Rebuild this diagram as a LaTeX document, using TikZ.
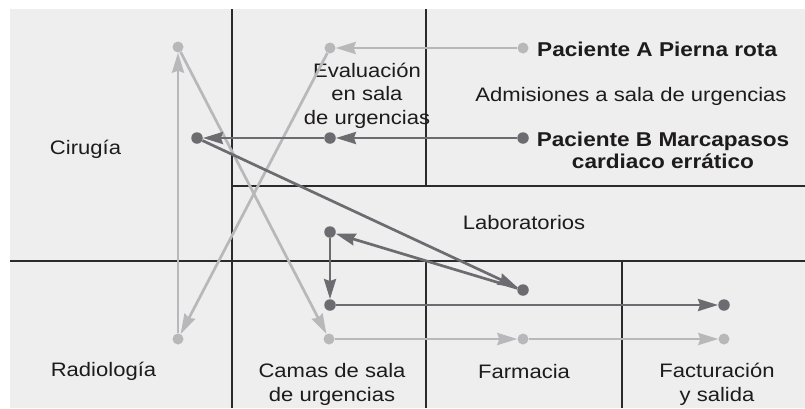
\documentclass[tikz,border=0pt]{standalone}
\usepackage{fontspec}
\setmainfont{Liberation Sans}[FakeStretch=1.13]
\usetikzlibrary{arrows.meta}
\definecolor{bg}{HTML}{EEEEEE}
\definecolor{lightA}{HTML}{B8B8BB}
\definecolor{darkB}{HTML}{6C6C70}
\definecolor{ink}{HTML}{1E1B1C}
\definecolor{gridc}{HTML}{2A2A2A}
\begin{document}
\begin{tikzpicture}[x=1pt,y=-1pt,
  txt/.style={font=\fontsize{19.5}{23.5}\selectfont, text=ink, inner sep=0pt, align=center},
  btxt/.style={txt, font=\fontsize{20}{22.5}\selectfont\bfseries},
  gridline/.style={draw=gridc, line width=1.1pt},
  dotA/.style={circle, fill=lightA, inner sep=0pt, minimum size=11pt},
  dotB/.style={circle, fill=darkB, inner sep=0pt, minimum size=11.5pt},
  arrA/.style={draw=lightA, line width=2.7pt, -{Stealth[length=20pt,width=12pt,inset=2pt]}},
  arrB/.style={draw=darkB, line width=2.7pt, -{Stealth[length=20pt,width=12pt,inset=2pt]}}
]
\useasboundingbox (0,0) rectangle (805,408);
\fill[bg] (10,9) rectangle (805,408);

% grid
\draw[gridline] (232,9) -- (232,408);
\draw[gridline] (426,9) -- (426,186);
\draw[gridline] (232,186) -- (805,186);
\draw[gridline] (10,261) -- (805,261);
\draw[gridline] (426,261) -- (426,408);
\draw[gridline] (622,261) -- (622,408);

% texts (base anchor of multi-line nodes = last line)
\node[btxt, anchor=base west] (paA) at (537,56) {Paciente A Pierna rota};
\node[txt, anchor=base] (adm) at (631,101) {Admisiones a sala de urgencias};
\node[btxt, anchor=base] (paB) at (663,168.5) {Paciente B Marcapasos\\cardiaco errático};
\node[txt, anchor=base] (eval) at (367,124) {Evaluación\\en sala\\de urgencias};
\node[txt, anchor=base] (cir) at (85.5,154) {Cirugía};
\node[txt, anchor=base] (lab) at (524,229) {Laboratorios};
\node[txt, anchor=base] (rad) at (103.5,376.5) {Radiología};
\node[txt, anchor=base] (camas) at (332,401) {Camas de sala\\de urgencias};
\node[txt, anchor=base] (farm) at (524,378) {Farmacia};
\node[txt, anchor=base] (fact) at (717,401) {Facturación\\y salida};

% patient A dots
\node[dotA] (A0) at (523,48) {};
\node[dotA] (A1) at (330,48) {};
\node[dotA] (Arad) at (178,339) {};
\node[dotA] (Acir) at (178,47) {};
\node[dotA] (Acam) at (329,339) {};
\node[dotA] (Afar) at (523,339) {};
\node[dotA] (Afac) at (724,339) {};

\draw[arrA] (A0) -- (A1);
\draw[arrA] (A1) -- (Arad);
\draw[arrA] (Arad) -- (Acir);
\draw[arrA] (Acir) -- (Acam);
\draw[arrA] (Acam) -- (Afar);
\draw[arrA] (Afar) -- (Afac);

% patient B dots
\node[dotB] (B0) at (523,138) {};
\node[dotB] (B1) at (330,138) {};
\node[dotB] (Bcir) at (197,138) {};
\node[dotB] (Blab) at (523,290) {};
\node[dotB] (Blab2) at (330,232) {};
\node[dotB] (Bcam) at (330,305) {};
\node[dotB] (Bfac) at (724,305) {};

\draw[arrB] (B0) -- (B1);
\draw[arrB] (B1) -- (Bcir);
\draw[arrB] (Bcir) -- (Blab);
\draw[arrB] (Blab) -- (Blab2);
\draw[arrB] (Blab2) -- (Bcam);
\draw[arrB] (Bcam) -- (Bfac);
\end{tikzpicture}
\end{document}
